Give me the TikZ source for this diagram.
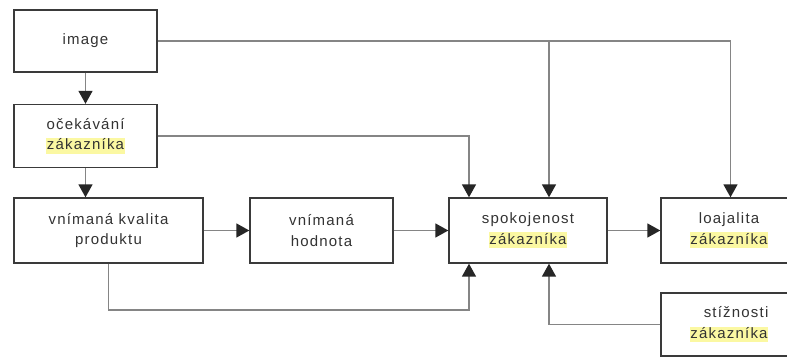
\documentclass[tikz,border=0pt]{standalone}
\usepackage{fontspec}
\setmainfont{Liberation Sans}[LetterSpace=8]
\usetikzlibrary{arrows.meta,calc}
\definecolor{hlyellow}{HTML}{FBF8A2}
\definecolor{boxline}{HTML}{3A3A3A}
\definecolor{conn}{HTML}{858585}
\definecolor{txt}{HTML}{333333}
\newcommand{\hlw}[1]{{\setlength{\fboxsep}{0.8pt}\colorbox{hlyellow}{\rule[-3pt]{0pt}{13.5pt}#1}}}
\tikzset{
  box/.style={draw=boxline, line width=1.4pt, rectangle, inner sep=0pt, text=txt,
              font=\fontsize{15}{20.5}\selectfont, align=center},
  lbl/.style={text=txt, font=\fontsize{15}{20.5}\selectfont},
  conline/.style={draw=conn, line width=1.6pt},
  arr/.style={conline, -{Triangle[length=13pt,width=14pt,fill=black!85,color=black!85]}}
}
\begin{document}
\begin{tikzpicture}[x=1pt,y=-1pt]
\useasboundingbox (0,0) rectangle (787,361);
\clip (0,0) rectangle (787,361);
\fill[white] (0,0) rectangle (787,361);
\node[box, minimum width=143pt, minimum height=62pt] (image) at (85.5,41) {image};
\node[box, minimum width=143pt, minimum height=63pt] (oc) at (85.5,136) {očekávání\\\hlw{zákazníka}};
\node[box, minimum width=189pt, minimum height=65pt] (kval) at (108.5,230.5) {vnímaná kvalita\\produktu};
\node[box, minimum width=143pt, minimum height=65pt] (hod) at (321.5,230.5) {vnímaná\\hodnota};
\node[box, minimum width=158pt, minimum height=65pt] (spok) at (528,230.5) {spokojenost\\\hlw{zákazníka}};
\node[box, minimum width=139pt, minimum height=65pt] (loaj) at (730.5,230.5) {};
\node[lbl, align=center] (loajt) at (729,230.5) {loajalita\\\hlw{zákazníka}};
\node[box, minimum width=139pt, minimum height=63pt] (stiz) at (730.5,324.5) {};
\node[lbl, align=right] (stizt) at (729,324.5) {stížnosti\\\hlw{zákazníka}};
\coordinate (j1) at (549,41);
\coordinate (j2) at (469,310);
% connectors
\draw[arr] (image) -- (oc);
\draw[arr] (oc) -- (oc |- kval.north);
\draw[arr] (image.east) -| (loaj.north);
\draw[arr] (j1) -- (j1 |- spok.north);
\draw[arr] (oc.east) -| (j2 |- spok.north);
\draw[arr] (kval) -- (hod);
\draw[arr] (hod) -- (spok);
\draw[arr] (spok) -- (loaj);
\draw[arr] (kval.south) |- (j2) -- (j2 |- spok.south);
\draw[arr] (stiz.west) -| (j1 |- spok.south);
\end{tikzpicture}
\end{document}
